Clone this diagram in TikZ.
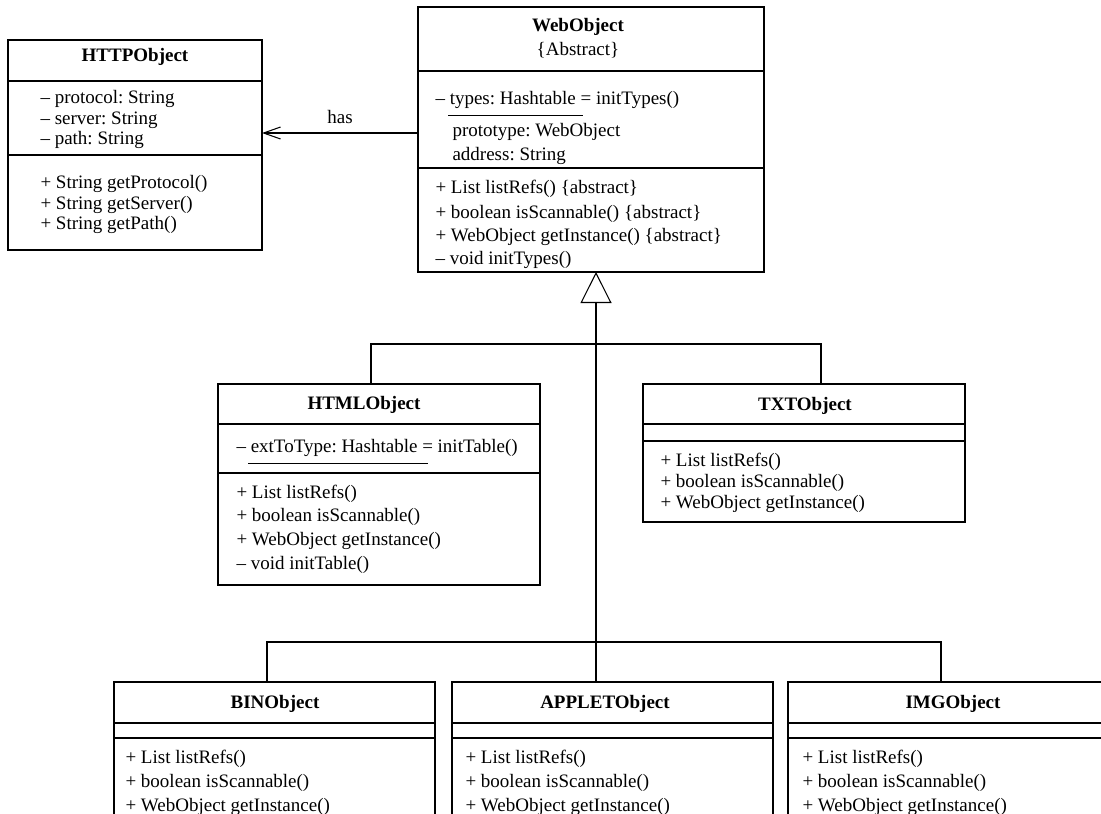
\documentclass[tikz,border=0pt]{standalone}
\usepackage{fontspec}
\setmainfont{Liberation Serif}
\usetikzlibrary{arrows.meta,calc}
\frenchspacing
\begin{document}
\begin{tikzpicture}[x=1pt,y=-1pt,line width=1.05pt,
  umlbox/.style={draw, anchor=north west, inner sep=0pt, outer sep=0pt},
  member/.style={anchor=base west, inner sep=0pt, font=\fontsize{19}{23}\selectfont},
  classname/.style={anchor=base, inner sep=0pt, font=\fontsize{19}{23}\selectfont\bfseries},
  stereo/.style={anchor=base, inner sep=0pt, font=\fontsize{19}{23}\selectfont},
  sep/.style={line width=1.05pt},
  staticline/.style={line width=1pt},
  assoc/.style={-{Straight Barb[length=17pt,width=12pt]}},
  inherit/.style={-{Triangle[open,length=31pt,width=31pt]}}
]
\useasboundingbox (0,0) rectangle (1101,814);
\clip (0,0) rectangle (1101,814);

% ---------- HTTPObject ----------
\node[umlbox, minimum width=254pt, minimum height=210pt] (http) at (8,40) {};
\draw[sep] ($(http.north west)+(0,41)$) -- ($(http.north east)+(0,41)$);
\draw[sep] ($(http.north west)+(0,115)$) -- ($(http.north east)+(0,115)$);
\node[classname] (httpT) at (135,61) {HTTPObject};
\node[member] (httpA1) at (40,103) {-- protocol: String};
\node[member] (httpA2) at (40,124) {-- server: String};
\node[member] (httpA3) at (40,144) {-- path: String};
\node[member] (httpM1) at (40,188) {+ String getProtocol()};
\node[member] (httpM2) at (40,209) {+ String getServer()};
\node[member] (httpM3) at (40,229) {+ String getPath()};

% ---------- WebObject ----------
\node[umlbox, minimum width=346pt, minimum height=265pt] (web) at (418,7) {};
\draw[sep] ($(web.north west)+(0,64)$) -- ($(web.north east)+(0,64)$);
\draw[sep] ($(web.north west)+(0,161)$) -- ($(web.north east)+(0,161)$);
\node[classname] (webT) at (578,31) {WebObject};
\node[stereo] (webS) at (578,55) {\{Abstract\}};
\node[member] (webA1) at (435,104) {-- types: Hashtable = initTypes()};
\draw[staticline] (448,115) -- (583,115);
\node[member] (webA2) at (452,136) {prototype: WebObject};
\node[member] (webA3) at (452,160) {address: String};
\node[member] (webM1) at (435,193) {+ List listRefs() \{abstract\}};
\node[member] (webM2) at (435,218) {+ boolean isScannable() \{abstract\}};
\node[member] (webM3) at (435,241) {+ WebObject getInstance() \{abstract\}};
\node[member] (webM4) at (435,264) {-- void initTypes()};

% ---------- HTMLObject ----------
\node[umlbox, minimum width=322pt, minimum height=201pt] (html) at (218,384) {};
\draw[sep] ($(html.north west)+(0,40)$) -- ($(html.north east)+(0,40)$);
\draw[sep] ($(html.north west)+(0,89)$) -- ($(html.north east)+(0,89)$);
\node[classname] (htmlT) at (364,409) {HTMLObject};
\node[member] (htmlA1) at (236,452) {-- extToType: Hashtable = initTable()};
\draw[staticline] (248,463) -- (428,463);
\node[member] (htmlM1) at (236,498) {+ List listRefs()};
\node[member] (htmlM2) at (236,521) {+ boolean isScannable()};
\node[member] (htmlM3) at (236,545) {+ WebObject getInstance()};
\node[member] (htmlM4) at (236,569) {-- void initTable()};

% ---------- TXTObject ----------
\node[umlbox, minimum width=322pt, minimum height=138pt] (txt) at (643,384) {};
\draw[sep] ($(txt.north west)+(0,40)$) -- ($(txt.north east)+(0,40)$);
\draw[sep] ($(txt.north west)+(0,57)$) -- ($(txt.north east)+(0,57)$);
\node[classname] (txtT) at (805,410) {TXTObject};
\node[member] (txtM1) at (660,466) {+ List listRefs()};
\node[member] (txtM2) at (660,487) {+ boolean isScannable()};
\node[member] (txtM3) at (660,508) {+ WebObject getInstance()};

% ---------- BINObject ----------
\node[umlbox, minimum width=321pt, minimum height=160pt] (bin) at (114,682) {};
\draw[sep] ($(bin.north west)+(0,41)$) -- ($(bin.north east)+(0,41)$);
\draw[sep] ($(bin.north west)+(0,56)$) -- ($(bin.north east)+(0,56)$);
\node[classname] (binT) at (275,708) {BINObject};
\node[member] (binM1) at (125,763) {+ List listRefs()};
\node[member] (binM2) at (125,787) {+ boolean isScannable()};
\node[member] (binM3) at (125,811) {+ WebObject getInstance()};

% ---------- APPLETObject ----------
\node[umlbox, minimum width=321pt, minimum height=160pt] (applet) at (452,682) {};
\draw[sep] ($(applet.north west)+(0,41)$) -- ($(applet.north east)+(0,41)$);
\draw[sep] ($(applet.north west)+(0,56)$) -- ($(applet.north east)+(0,56)$);
\node[classname] (appletT) at (605,708) {APPLETObject};
\node[member] (appletM1) at (465,763) {+ List listRefs()};
\node[member] (appletM2) at (465,787) {+ boolean isScannable()};
\node[member] (appletM3) at (465,811) {+ WebObject getInstance()};

% ---------- IMGObject ----------
\node[umlbox, minimum width=321pt, minimum height=160pt] (img) at (788,682) {};
\draw[sep] ($(img.north west)+(0,41)$) -- ($(img.north east)+(0,41)$);
\draw[sep] ($(img.north west)+(0,56)$) -- ($(img.north east)+(0,56)$);
\node[classname] (imgT) at (953,708) {IMGObject};
\node[member] (imgM1) at (802,763) {+ List listRefs()};
\node[member] (imgM2) at (802,787) {+ boolean isScannable()};
\node[member] (imgM3) at (802,811) {+ WebObject getInstance()};

% ---------- association ----------
\coordinate (hasY) at (0,133);
\draw[assoc] (web.west |- hasY) -- (http.east |- hasY)
  node[midway, yshift=10pt, anchor=base, inner sep=0pt, font=\fontsize{19}{23}\selectfont] (hasL) {has};

% ---------- generalization tree ----------
\coordinate (trunk) at (596,0);
\coordinate (htmlX) at (371,344);
\coordinate (txtX) at (821,344);
\coordinate (binX) at (267,642);
\coordinate (imgX) at (941,642);
\draw[inherit] (applet.north -| trunk) -- (web.south -| trunk);
\draw (htmlX |- html.north) -- (htmlX) -- (txtX) -- (txtX |- txt.north);
\draw (binX |- bin.north) -- (binX) -- (imgX) -- (imgX |- img.north);
\end{tikzpicture}
\end{document}
